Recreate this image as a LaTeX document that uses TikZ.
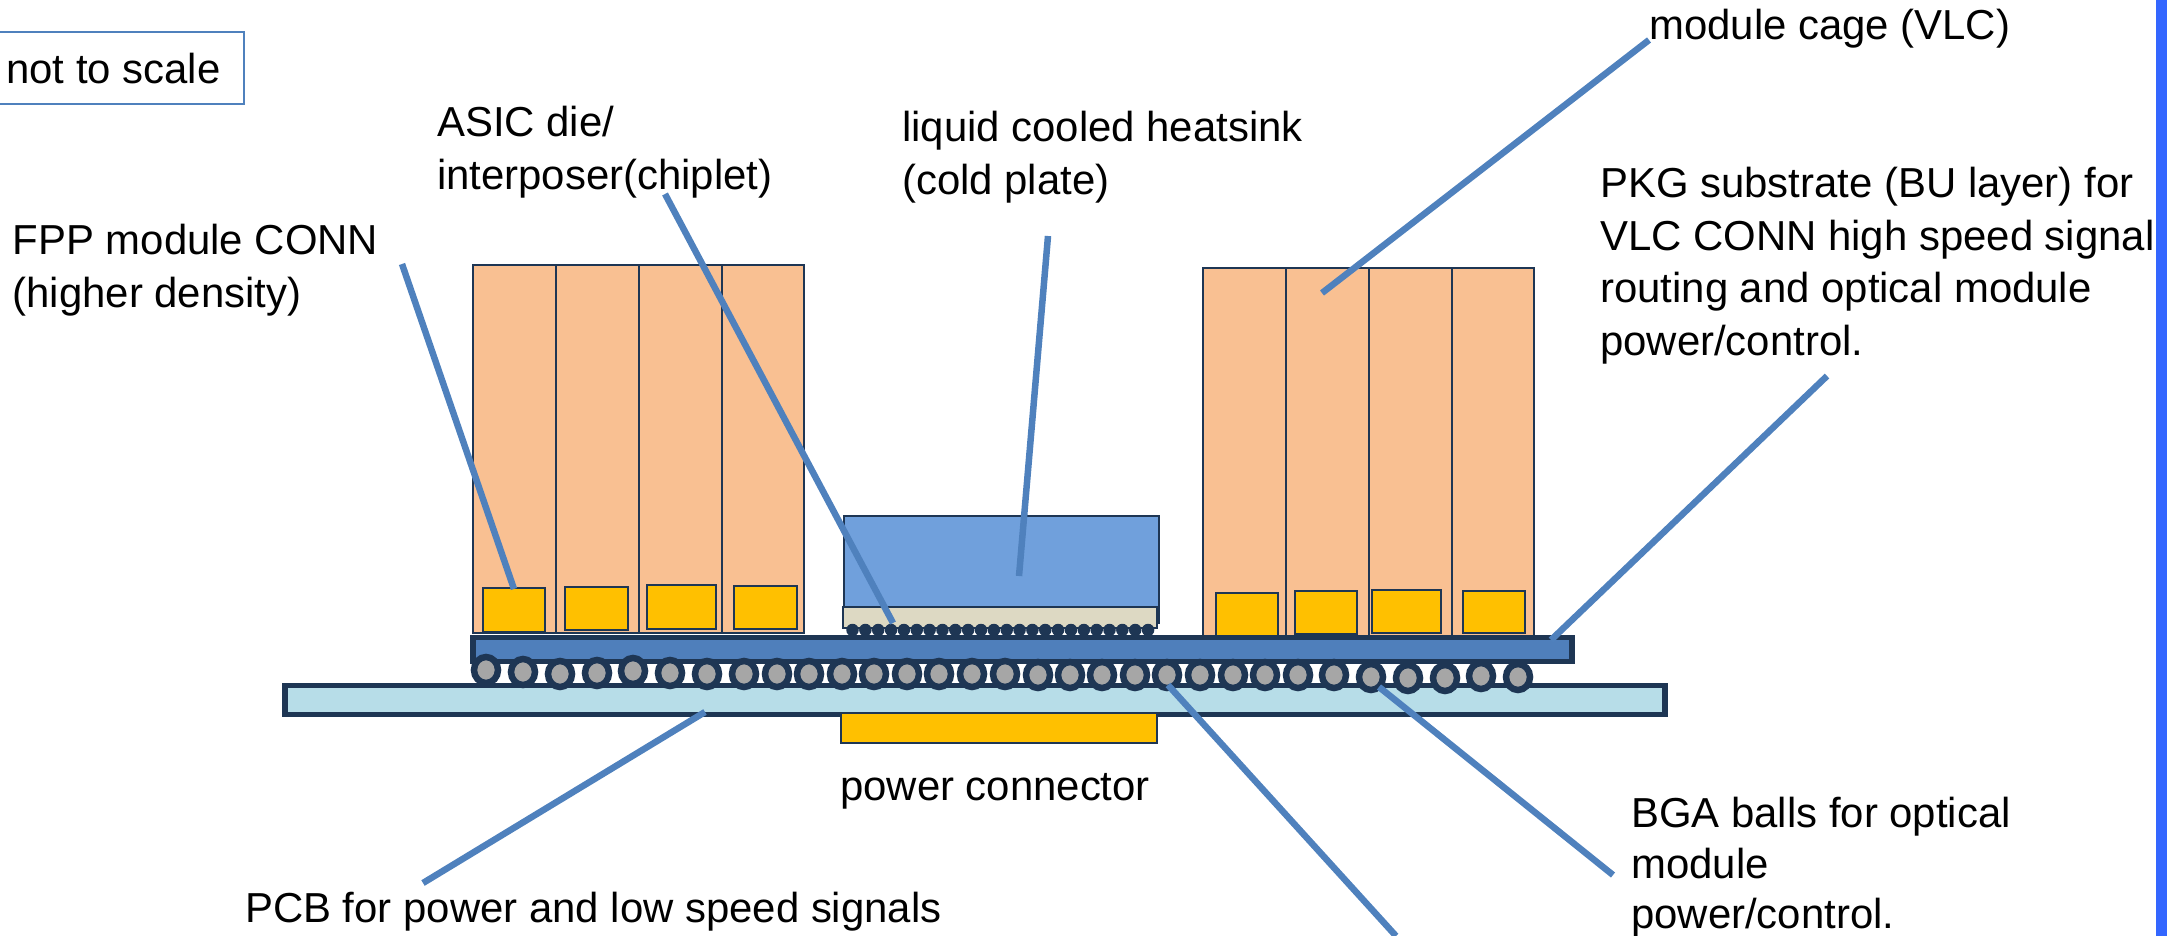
\documentclass[tikz,border=0pt]{standalone}
\usepackage{xcolor}
\usepackage{fontspec}
\setmainfont{Liberation Sans}
\usetikzlibrary{shapes,positioning}
\definecolor{leadcolor}{RGB}{79,129,189}
\definecolor{darkcolor}{RGB}{30,54,84}
\definecolor{cagecolor}{RGB}{249,192,146}
\definecolor{chipcolor}{RGB}{255,192,0}
\definecolor{sinkcolor}{RGB}{112,160,220}
\definecolor{diecolor}{RGB}{221,217,195}
\definecolor{pkgcolor}{RGB}{79,127,187}
\definecolor{pcbcolor}{RGB}{183,221,232}
\definecolor{ballcolor}{RGB}{166,166,166}
\definecolor{stripcolor}{RGB}{51,102,255}

\begin{document}
\begin{tikzpicture}[
    x=1pt, y=-1pt,
    cage/.style={rectangle, draw=darkcolor, line width=1.5pt, fill=cagecolor, inner sep=0pt, outer sep=0pt, minimum height=368pt, anchor=north west},
    chip/.style={rectangle, draw=darkcolor, line width=1.5pt, fill=chipcolor, inner sep=0pt, outer sep=0pt, anchor=north west},
    plate/.style={rectangle, draw=darkcolor, line width=5.5pt, inner sep=0pt, outer sep=0pt, anchor=north west},
    bump/.style={circle, fill=darkcolor, inner sep=0pt, minimum size=12.5pt},
    ball/.style={ellipse, draw=darkcolor, line width=6.5pt, fill=ballcolor, inner sep=0pt, minimum width=24pt, minimum height=26pt},
    label/.style={align=left, anchor=north west, inner sep=0pt, font=\fontsize{41.9}{52.5}\selectfont},
    leader/.style={draw=leadcolor, line width=6.5pt}
]
\useasboundingbox (0,0) rectangle (2167,936);

% Scale box and page strip
\node[rectangle, draw=leadcolor, line width=2pt, minimum width=254pt, minimum height=72pt, inner sep=0pt, outer sep=0pt, anchor=north west] (scalebox) at (-10,32) {};
\node[rectangle, fill=stripcolor, minimum width=11pt, minimum height=936pt, inner sep=0pt, outer sep=0pt, anchor=north west] (strip) at (2156,0) {};

% Left module cages
\node[cage, minimum width=83pt] (lcage1) at (473,265) {};
\node[cage, minimum width=83pt] (lcage2) at (556,265) {};
\node[cage, minimum width=83pt] (lcage3) at (639,265) {};
\node[cage, minimum width=82pt] (lcage4) at (722,265) {};

% Right module cages
\node[cage, minimum width=83pt] (rcage1) at (1203,268) {};
\node[cage, minimum width=83pt] (rcage2) at (1286,268) {};
\node[cage, minimum width=83pt] (rcage3) at (1369,268) {};
\node[cage, minimum width=82pt] (rcage4) at (1452,268) {};

% FPP connectors
\node[chip, minimum width=62pt, minimum height=44pt] (lconn1) at (483,588) {};
\node[chip, minimum width=63pt, minimum height=43pt] (lconn2) at (565,587) {};
\node[chip, minimum width=69pt, minimum height=44pt] (lconn3) at (647,585) {};
\node[chip, minimum width=63pt, minimum height=43pt] (lconn4) at (734,586) {};
\node[chip, minimum width=62pt, minimum height=43pt] (rconn1) at (1216,593) {};
\node[chip, minimum width=62pt, minimum height=43pt] (rconn2) at (1295,591) {};
\node[chip, minimum width=69pt, minimum height=43pt] (rconn3) at (1372,590) {};
\node[chip, minimum width=62pt, minimum height=42pt] (rconn4) at (1463,591) {};

% Heatsink and die
\node[rectangle, draw=darkcolor, line width=1.5pt, fill=sinkcolor, minimum width=315pt, minimum height=107pt, inner sep=0pt, outer sep=0pt, anchor=north west] (sink) at (844,516) {};
\node[rectangle, draw=darkcolor, line width=1.5pt, fill=diecolor, minimum width=314pt, minimum height=21pt, inner sep=0pt, outer sep=0pt, anchor=north west] (die) at (843,607) {};

% PKG substrate and PCB
\node[plate, fill=pkgcolor, minimum width=1099pt, minimum height=24pt] (pkg) at (473,637.5) {};
\foreach \i in {0,...,23}
    \node[bump] (bump\i) at ({852.5+\i*12.85},630) {};
\node[plate, fill=pcbcolor, minimum width=1380pt, minimum height=29pt] (pcb) at (285,685.5) {};
\node[chip, minimum width=316pt, minimum height=30pt] (power) at (841,713) {};

% BGA balls
\foreach \px/\py [count=\i] in {486/670,523/672,560/674,597/673,633/671,670/673,707/674,744/674,777/674,809/674,842/674,874/674,907/674,939/674,972/674,1005/674,1038/675,1070/675,1102/675,1135/675,1167/675,1200/675,1233/675,1265/675,1298/675,1334/675,1371/677,1408/678,1445/678,1481/676,1518/677}
    \node[ball] (bga\i) at (\px,\py) {};

% Labels
\node[label] (scaletext) at (6,53) {not to scale};
\node[label] (fpptext) at (12.5,224) {FPP module CONN\\(higher density)};
\node[label] (asictext) at (437,106) {ASIC die/\\interposer(chiplet)};
\node[label] (sinktext) at (902,111) {liquid cooled heatsink\\(cold plate)};
\node[label] (cagetext) at (1649,9) {module cage (VLC)};
\node[label] (pkgtext) at (1600,167) {PKG substrate (BU layer) for\\VLC CONN high speed signal\\routing and optical module\\power/control.};
\node[label] (powertext) at (840,773) {power connector};
\node[label, font=\fontsize{41.9}{50.5}\selectfont] (bgatext) at (1631,797) {BGA balls for optical\\module\\power/control.};
\node[label] (pcbtext) at (245,892) {PCB for power and low speed signals};

% Leader ends
\coordinate (fppstart) at (402,264);
\coordinate (fppend) at (514,589);
\coordinate (asicstart) at (665,194);
\coordinate (asicend) at (893,623);
\coordinate (sinkstart) at (1048,236);
\coordinate (sinkend) at (1019,576);
\coordinate (cagestart) at (1649,40);
\coordinate (cageend) at (1322,293);
\coordinate (pkgstart) at (1827,376);
\coordinate (pkgend) at (1551,640);
\coordinate (pcbstart) at (423,883);
\coordinate (pcbend) at (705,712);
\coordinate (bgastart) at (1613,875);
\coordinate (bgaend) at (1379,687);
\coordinate (offstart) at (1396,936);
\coordinate (offend) at (1168,685);

% Leaders
\draw[leader] (fppstart) -- (fppend);
\draw[leader] (asicstart) -- (asicend);
\draw[leader] (sinkstart) -- (sinkend);
\draw[leader] (cagestart) -- (cageend);
\draw[leader] (pkgstart) -- (pkgend);
\draw[leader] (pcbstart) -- (pcbend);
\draw[leader] (bgastart) -- (bgaend);
\draw[leader] (offstart) -- (offend);

\end{tikzpicture}
\end{document}
